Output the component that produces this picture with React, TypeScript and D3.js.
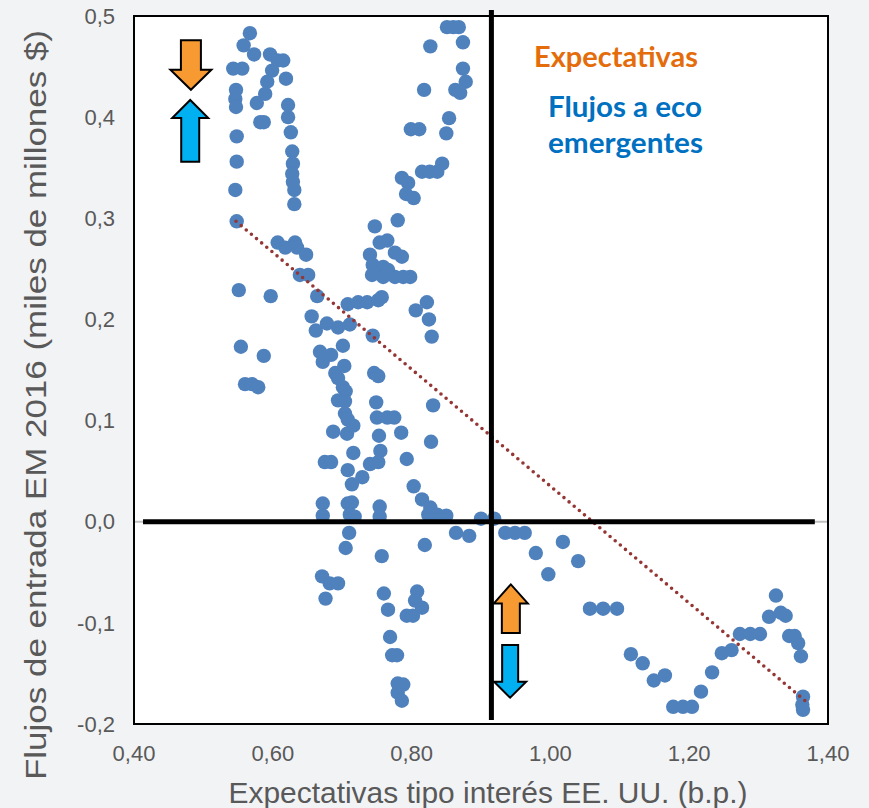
import * as d3 from "d3";

// US rate expectations (b.p.) vs. EM inflows 2016 (bn $)
const rateExp = [
  0.567, 0.558, 0.573, 0.596, 0.607, 0.615, 0.543, 0.556, 0.599, 0.619, 0.592, 0.547, 0.589, 0.546, 0.547, 0.577,
  0.622, 0.622, 0.582, 0.587, 0.626, 0.548, 0.628, 0.629, 0.548, 0.628, 0.629, 0.631, 0.546, 0.631, 0.548,
  0.607, 0.618, 0.632, 0.635, 0.648, 0.639, 0.651, 0.551, 0.597, 0.664, 0.554, 0.587, 0.56, 0.57, 0.579,
  0.656, 0.678, 0.694, 0.662, 0.711, 0.668, 0.701, 0.684, 0.672, 0.703, 0.69, 0.694, 0.701, 0.705, 0.694, 0.704,
  0.704, 0.708, 0.716, 0.687, 0.707, 0.716, 0.675, 0.684, 0.708, 0.729, 0.714,
  0.708, 0.723, 0.736, 0.752, 0.757, 0.747, 0.78, 0.754, 0.765, 0.74, 0.776, 0.786, 0.744, 0.759, 0.766, 0.743,
  0.759, 0.776, 0.788, 0.798, 0.822, 0.806, 0.825, 0.744, 0.829, 0.746, 0.752, 0.749, 0.831, 0.75, 0.765, 0.775,
  0.753, 0.785, 0.828, 0.755, 0.793, 0.74, 0.752, 0.803, 0.815,
  0.851, 0.86, 0.868, 0.827, 0.874, 0.874, 0.878, 0.863, 0.87, 0.818, 0.854, 0.799, 0.811, 0.85, 0.844, 0.815,
  0.826, 0.837, 0.786, 0.795, 0.792, 0.803,
  0.672, 0.672, 0.708, 0.714, 0.711, 0.718, 0.754, 0.754, 0.827, 0.824, 0.837, 0.85, 0.9, 0.919, 0.71, 0.705,
  0.757, 0.819, 0.864, 0.883, 0.935, 0.949, 0.963, 0.979, 1.018, 0.997, 1.04,
  0.671, 0.682, 0.694, 0.676, 0.76, 0.766, 0.808, 0.805, 0.815, 0.793, 0.802, 0.769, 0.772, 0.779, 0.78, 0.788,
  0.78, 0.786,
  1.057, 1.076, 1.096, 1.116, 1.133, 1.149, 1.165, 1.177, 1.191, 1.204, 1.217, 1.233, 1.247, 1.261, 1.273, 1.288,
  1.302, 1.315, 1.325, 1.332, 1.339, 1.344, 1.352, 1.357, 1.361, 1.364, 1.363, 1.364,
];
const emFlows = [
  0.483, 0.471, 0.462, 0.462, 0.456, 0.456, 0.448, 0.448, 0.446, 0.438, 0.435, 0.427, 0.423, 0.418, 0.41, 0.414,
  0.412, 0.4, 0.395, 0.395, 0.385, 0.381, 0.366, 0.354, 0.356, 0.344, 0.336, 0.328, 0.328, 0.314, 0.297,
  0.276, 0.271, 0.276, 0.271, 0.264, 0.244, 0.244, 0.229, 0.223, 0.223, 0.173, 0.164, 0.136, 0.136, 0.133,
  0.203, 0.196, 0.192, 0.189, 0.195, 0.168, 0.174, 0.165, 0.158, 0.154, 0.147, 0.142, 0.133, 0.129, 0.12, 0.119,
  0.107, 0.101, 0.095, 0.089, 0.087, 0.068, 0.059, 0.059, 0.051, 0.044, 0.037,
  0.215, 0.217, 0.217, 0.219, 0.222, 0.292, 0.298, 0.276, 0.278, 0.264, 0.266, 0.262, 0.254, 0.252, 0.249, 0.244,
  0.242, 0.242, 0.242, 0.242, 0.217, 0.209, 0.2, 0.184, 0.183, 0.147, 0.144, 0.118, 0.115, 0.103, 0.103, 0.103,
  0.085, 0.088, 0.079, 0.07, 0.062, 0.057, 0.059, 0.035, 0.022,
  0.489, 0.489, 0.489, 0.47, 0.474, 0.448, 0.435, 0.427, 0.424, 0.427, 0.399, 0.388, 0.388, 0.384, 0.354, 0.346,
  0.346, 0.346, 0.34, 0.335, 0.324, 0.32,
  0.018, 0.006, 0.018, 0.019, 0.007, 0.005, 0.015, 0.005, 0.014, 0.007, 0.007, 0.006, 0.003, 0.003, -0.011, -0.026,
  -0.034, -0.023, -0.011, -0.014, -0.011, -0.011, -0.011, -0.031, -0.02, -0.052, -0.039,
  -0.054, -0.061, -0.061, -0.076, -0.071, -0.087, -0.069, -0.078, -0.085, -0.093, -0.093, -0.114, -0.132, -0.132,
  -0.16, -0.161, -0.169, -0.177,
  -0.086, -0.086, -0.086, -0.131, -0.14, -0.157, -0.152, -0.183, -0.183, -0.183, -0.168, -0.149, -0.13, -0.127,
  -0.111, -0.111, -0.111, -0.094, -0.073, -0.09, -0.093, -0.113, -0.113, -0.12, -0.133, -0.173, -0.181, -0.186,
];

// linear trend
const trendX = [0.547, 1.367];
const trendY = [0.297, -0.177];

const xTicks = [0.4, 0.6, 0.8, 1.0, 1.2, 1.4];
const yTicks = [0.5, 0.4, 0.3, 0.2, 0.1, 0, -0.1, -0.2];

// quadrant cross
const crossX = 0.915;
const crossXSpan = [-0.196, 0.506];
const crossYSpan = [0.413, 1.381];

const W = 869;
const H = 808;
const GREY = "#595959";
const ORANGE = "#F79A32";
const CYAN = "#00B0F0";

function arrowPath(cx: number, from: number, to: number, sw = 19, hw = 38, hl = 19) {
  const dir = to > from ? 1 : -1;
  const hb = to - dir * hl;
  return `M${cx - sw / 2},${from}L${cx - sw / 2},${hb}L${cx - hw / 2},${hb}L${cx},${to}L${cx + hw / 2},${hb}L${cx + sw / 2},${hb}L${cx + sw / 2},${from}Z`;
}

export default function App() {
  const x = d3.scaleLinear().domain([0.4, 1.4]).range([134, 828]);
  const y = d3.scaleLinear().domain([-0.2, 0.5]).range([724, 16]);
  const pts = d3.zip(rateExp, emFlows);
  const trend = d3.line()(trendX.map((v, i) => [x(v), y(trendY[i])]));

  const fmtX = (v: number) => v.toFixed(2).replace(".", ",");
  const fmtY = (v: number) => v.toFixed(1).replace(".", ",");

  return (
    <div style={{ position: "absolute", left: 0, top: 0 }}>
      <svg width={W} height={H} style={{ display: "block" }} fontFamily="'Liberation Sans', Arial, sans-serif">
        <rect width={W} height={H} fill="#f2f3f5" />
        <rect x={x(0.4)} y={y(0.5)} width={x(1.4) - x(0.4)} height={y(-0.2) - y(0.5)} fill="#fff" />
        <line x1={x(0.4)} x2={x(1.4)} y1={y(0)} y2={y(0)} stroke="#bfbfbf" strokeWidth={2} />

        {pts.map(([a, b], i) => (
          <circle key={i} cx={x(a)} cy={y(b)} r={7.2} fill="#4F81BD" />
        ))}

        <path d={trend} fill="none" stroke="#943634" strokeWidth={3.6} strokeDasharray="0 6.7" strokeLinecap="round" />

        <line x1={x(crossX)} x2={x(crossX)} y1={y(crossXSpan[1])} y2={y(crossXSpan[0])} stroke="#000" strokeWidth={5} />
        <line x1={x(crossYSpan[0])} x2={x(crossYSpan[1])} y1={y(0)} y2={y(0)} stroke="#000" strokeWidth={5} />

        <g stroke="#000" strokeWidth={2} strokeLinejoin="miter">
          <path d={arrowPath(x(0.482), y(0.476), y(0.427), 20, 41, 20)} fill={ORANGE} />
          <path d={arrowPath(x(0.481), y(0.356), y(0.417), 18, 36, 18)} fill={CYAN} />
          <path d={arrowPath(x(0.943), y(-0.11), y(-0.062), 18, 34, 19)} fill={ORANGE} />
          <path d={arrowPath(x(0.942), y(-0.122), y(-0.174), 16, 32, 16)} fill={CYAN} />
        </g>

        <rect x={x(0.4)} y={y(0.5)} width={x(1.4) - x(0.4)} height={y(-0.2) - y(0.5)} fill="none" stroke="#000" strokeWidth={2} />

        <g fontFamily="Lato, 'Open Sans', sans-serif" fontWeight={700} fontSize={29}>
          <text x={534} y={67} fill="#E46C0A" textLength={164} lengthAdjust="spacingAndGlyphs">Expectativas</text>
          <text x={548} y={117} fill="#0070C0" textLength={154} lengthAdjust="spacingAndGlyphs">Flujos a eco</text>
          <text x={548} y={153} fill="#0070C0" textLength={155} lengthAdjust="spacingAndGlyphs">emergentes</text>
        </g>

        {yTicks.map((t) => (
          <text key={t} x={115} y={y(t)} dy="0.35em" textAnchor="end" fontSize={22} fill={GREY}>
            {fmtY(t)}
          </text>
        ))}
        {xTicks.map((t) => (
          <text key={t} x={x(t)} y={761} textAnchor="middle" fontSize={22} fill={GREY}>
            {fmtX(t)}
          </text>
        ))}

        <text x={488} y={803} textAnchor="middle" fontSize={29} fill={GREY} textLength={519} lengthAdjust="spacingAndGlyphs">
          Expectativas tipo interés EE. UU. (b.p.)
        </text>
        <text
          transform="translate(46,405) rotate(-90)"
          textAnchor="middle"
          fontSize={30}
          fill={GREY}
          textLength={750}
          lengthAdjust="spacingAndGlyphs"
        >
          Flujos de entrada EM 2016 (miles de millones $)
        </text>
      </svg>
    </div>
  );
}
